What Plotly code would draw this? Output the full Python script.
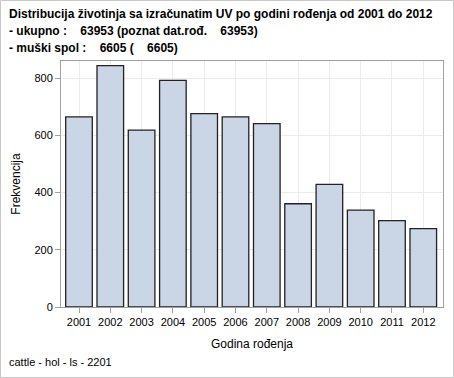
import plotly.graph_objects as go

years = ["2001", "2002", "2003", "2004", "2005", "2006", "2007", "2008", "2009", "2010", "2011", "2012"]
counts = [665, 844, 618, 792, 676, 665, 641, 361, 429, 339, 302, 274]
y_ticks = [0, 200, 400, 600, 800]

title_lines = [
    "Distribucija životinja sa izračunatim UV po godini rođenja od 2001 do 2012",
    "- ukupno :\u00a0\u00a0\u00a0 63953 (poznat dat.rođ.\u00a0\u00a0\u00a0 63953)",
    "- muški spol :\u00a0\u00a0\u00a0 6605 (\u00a0\u00a0\u00a0 6605)",
]
footnote = "cattle - hol - ls - 2201"

FONT = "Arial, Liberation Sans, sans-serif"
W, H = 454, 378
L, R, T, B = 61, 11, 61, 71
pw, ph = W - L - R, H - T - B

fig = go.Figure()
fig.add_trace(go.Bar(
    x=years, y=counts,
    marker=dict(color="#cad5e5", line=dict(color="#222222", width=1.3)),
    showlegend=False,
))

fig.update_layout(
    width=W, height=H,
    margin=dict(l=L, r=R, t=T, b=B),
    paper_bgcolor="white", plot_bgcolor="white",
    font=dict(family=FONT, size=11, color="#000000"),
    bargap=0.15,
    xaxis=dict(
        type="category", range=[-0.575, 11.63],
        showgrid=True, gridcolor="#ececec", gridwidth=1,
        ticks="outside", ticklen=5, tickcolor="#a0a0a0",
        showline=True, linecolor="#a0a0a0", mirror=True,
        tickfont=dict(size=11, color="#000000"),
        title=dict(text="Godina rođenja", font=dict(size=12), standoff=12),
    ),
    yaxis=dict(
        range=[0, 860], tickvals=y_ticks,
        showgrid=True, gridcolor="#ececec", gridwidth=1,
        ticks="outside", ticklen=5, tickcolor="#a0a0a0",
        showline=True, linecolor="#a0a0a0", mirror=True,
        zeroline=False,
        tickfont=dict(size=11, color="#000000"),
        title=dict(text="Frekvencija", font=dict(size=12), standoff=11),
    ),
)

def px_x(x):
    return (x - L) / pw

def px_y(y):
    return 1 - (y - T) / ph

for i, line in enumerate(title_lines):
    fig.add_annotation(
        text="<b>" + line + "</b>", xref="paper", yref="paper",
        x=px_x(7), y=px_y(14 + 17 * i), xanchor="left", yanchor="middle",
        showarrow=False, font=dict(size=12, family=FONT, color="#000000"),
    )

fig.add_annotation(
    text=footnote, xref="paper", yref="paper",
    x=px_x(7), y=px_y(362), xanchor="left", yanchor="middle",
    showarrow=False, font=dict(size=11, family=FONT, color="#000000"),
)

fig.add_shape(
    type="rect", xref="paper", yref="paper",
    x0=px_x(0.5), x1=px_x(W - 0.5), y0=px_y(H - 0.5), y1=px_y(0.5),
    line=dict(color="#c8c8c8", width=1), layer="below",
)

fig.write_html("out.html")
